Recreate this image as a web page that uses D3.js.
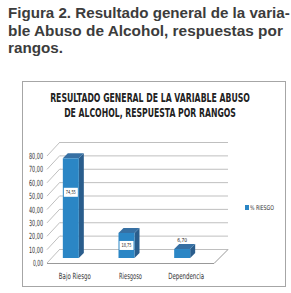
<!DOCTYPE html>
<head>
  <meta charset="utf-8">
  <script src="https://d3js.org/d3.v7.min.js"></script>
  <style>
    body { margin: 0; background: #fff; }
    svg { position: absolute; top: 0; left: 0; }
    .cap { font-family: "Liberation Sans", Arial, sans-serif; font-weight: 700; font-size: 15px; fill: #3c3c3c; }
    .narrow { font-family: "Liberation Sans Narrow", "DejaVu Sans Condensed", sans-serif; }
  </style>
</head>
<body>
  <svg width="291" height="293"></svg>
  <script>
    var captionLines = ['Figura 2. Resultado general de la varia-', 'ble Abuso de Alcohol, respuestas por', 'rangos.'];
    var titleLines = ['RESULTADO GENERAL DE LA VARIABLE ABUSO', 'DE ALCOHOL, RESPUESTA POR RANGOS'];
    var categories = ['Bajo Riesgo', 'Riesgoso', 'Dependencia'];
    var values = [74.55, 18.75, 6.70];
    var yTicks = [0, 10, 20, 30, 40, 50, 60, 70, 80];
    var seriesName = '% RIESGO';

    // text widths (fonts there are condensed)
    var captionWidths = [282, 275, 55];
    var titleWidths = [200, 172];
    var catWidths = [32, 23, 36];

    var svg = d3.select('svg');
    var fmt = function(v) { return d3.format('.2f')(v).replace('.', ','); };

    // squeeze a text horizontally to a given width, keeping its anchor
    function squeeze(sel, widthFn) {
      sel.each(function(d, i) {
        var w = typeof widthFn === 'function' ? widthFn(d, i) : widthFn;
        var s = w / this.getComputedTextLength();
        var tx = +this.getAttribute('x'), ty = +this.getAttribute('y');
        d3.select(this).attr('x', 0).attr('y', 0)
          .attr('transform', 'translate(' + [tx, ty] + ')scale(' + s + ',1)');
      });
    }

    // caption above the chart
    svg.selectAll('text.cap')
      .data(captionLines).enter().append('text')
      .classed('cap', true)
      .attr('x', 8)
      .attr('y', function(d, i) { return 18 + i * 17.5; })
      .text(function(d) { return d; })
      .call(squeeze, function(d, i) { return captionWidths[i]; });

    // chart frame
    svg.append('rect')
      .attr('x', 22.5).attr('y', 81.5)
      .attr('width', 263).attr('height', 205)
      .attr('fill', '#fff').attr('stroke', '#a6a6a6');

    svg.selectAll('text.title')
      .data(titleLines).enter().append('text')
      .attr('class', 'narrow')
      .attr('x', 150)
      .attr('y', function(d, i) { return 102 + i * 15; })
      .attr('text-anchor', 'middle')
      .attr('font-weight', 700)
      .attr('font-size', '11.5px')
      .attr('fill', '#222')
      .text(function(d) { return d; })
      .call(squeeze, function(d, i) { return titleWidths[i]; });

    // 3d plot geometry
    var dx = 13, dy = -14;
    var front = { left: 47, right: 214, bottom: 263 };
    var x = d3.scaleBand().domain(categories).range([front.left, front.right]);
    var y = d3.scaleLinear().domain([0, 80]).range([front.bottom, front.bottom - 107]);

    var grid = svg.append('g').attr('stroke', '#bfbfbf').attr('fill', 'none');
    // back wall gridlines and side wall diagonals
    yTicks.forEach(function(t) {
      grid.append('line')
        .attr('x1', front.left + dx).attr('x2', front.right + dx + 1)
        .attr('y1', y(t) + dy + 0.5).attr('y2', y(t) + dy + 0.5);
      grid.append('line')
        .attr('x1', front.left).attr('y1', y(t))
        .attr('x2', front.left + dx).attr('y2', y(t) + dy);
    });
    // floor outline
    grid.append('path')
      .attr('stroke', '#999')
      .attr('d', 'M' + [front.left, front.bottom + 0.5] + 'L' + [front.right, front.bottom + 0.5] +
        'L' + [front.right + dx + 1, front.bottom + dy + 0.5]);

    // y tick labels
    svg.selectAll('text.ytick')
      .data(yTicks).enter().append('text')
      .attr('class', 'narrow')
      .attr('x', 43)
      .attr('y', function(d) { return y(d) + 3; })
      .attr('text-anchor', 'end')
      .attr('font-size', '8.5px')
      .attr('fill', '#333')
      .text(fmt)
      .call(squeeze, function(d) { return d === 0 ? 10 : 14; });

    // category labels
    svg.selectAll('text.cat')
      .data(categories).enter().append('text')
      .attr('class', 'narrow')
      .attr('x', function(d) { return x(d) + x.bandwidth() / 2; })
      .attr('y', 279)
      .attr('text-anchor', 'middle')
      .attr('font-size', '8.5px')
      .attr('fill', '#333')
      .text(function(d) { return d; })
      .call(squeeze, function(d, i) { return catWidths[i]; });

    // bars: front face placed slightly back into the box
    var bw = 16, bd = 5, shift = { x: -4, y: -5 };
    var yb = function(v) { return y(v) + shift.y; };
    var bars = svg.selectAll('g.bar')
      .data(values).enter().append('g')
      .attr('transform', function(d, i) {
        return 'translate(' + (x(categories[i]) + x.bandwidth() / 2 - bw / 2 + shift.x) + ',0)';
      });
    bars.append('path')
      .attr('fill', '#2a5d8c')
      .attr('d', function(d) {
        return 'M' + [bw, yb(d)] + 'L' + [bw + bd, yb(d) - bd] + 'L' + [bw + bd, yb(0) - bd] + 'L' + [bw, yb(0)] + 'Z';
      });
    bars.append('path')
      .attr('fill', '#3770a3')
      .attr('d', function(d) {
        return 'M' + [0, yb(d)] + 'L' + [bd, yb(d) - bd] + 'L' + [bw + bd, yb(d) - bd] + 'L' + [bw, yb(d)] + 'Z';
      });
    bars.append('rect')
      .attr('fill', '#2b86c5')
      .attr('x', 0).attr('width', bw)
      .attr('y', function(d) { return yb(d); })
      .attr('height', function(d) { return yb(0) - yb(d); });

    // data labels
    var labelY = function(d) {
      if (d < 10) return yb(d) - 9;
      if (d > 50) return yb(d) + 34;
      return (yb(d) + yb(0)) / 2;
    };
    bars.append('rect')
      .attr('fill', function(d) { return d < 10 ? 'none' : '#fff'; })
      .attr('x', 1).attr('width', bw - 2)
      .attr('y', function(d) { return labelY(d) - 4.5; })
      .attr('height', 9);
    bars.append('text')
      .attr('class', 'narrow')
      .attr('x', bw / 2)
      .attr('y', function(d) { return labelY(d) + 2; })
      .attr('text-anchor', 'middle')
      .attr('font-size', '5.5px')
      .attr('fill', '#222')
      .text(fmt)
      .call(squeeze, 10);

    // legend
    svg.append('rect')
      .attr('x', 245).attr('y', 205).attr('width', 4).attr('height', 5)
      .attr('fill', '#2b86c5');
    svg.append('text')
      .attr('class', 'narrow')
      .attr('x', 250).attr('y', 210)
      .attr('font-size', '6.5px')
      .attr('fill', '#333')
      .text(seriesName)
      .call(squeeze, 24);
  </script>
</body>
